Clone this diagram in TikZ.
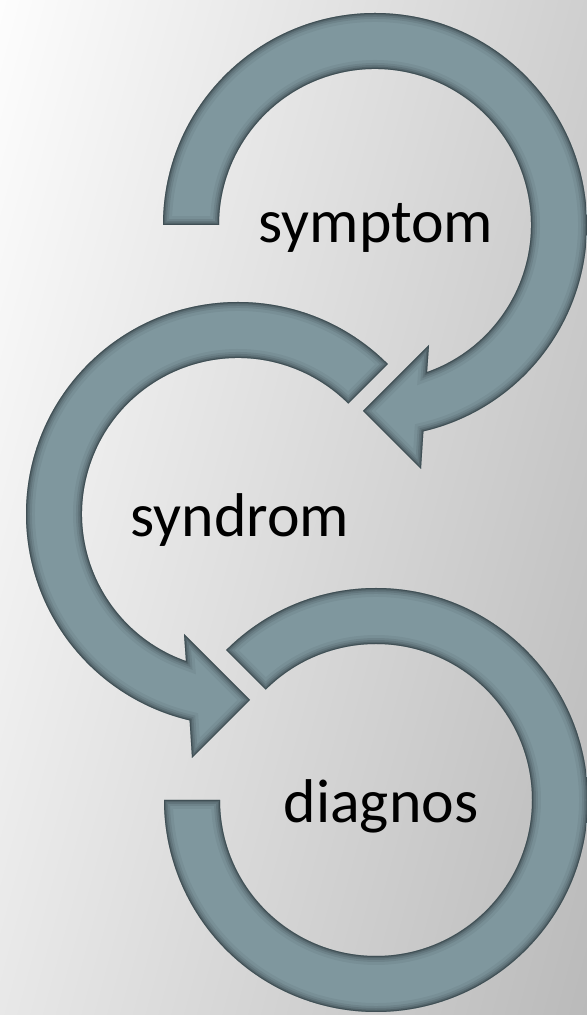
\documentclass[tikz,border=0pt]{standalone}
\usepackage{fontspec}
\setmainfont{Carlito}
\usetikzlibrary{calc}
\definecolor{ringcol}{RGB}{127,151,158}
\definecolor{ringdark}{RGB}{30,42,46}
\definecolor{bgstart}{RGB}{253,253,253}
\definecolor{bgend}{RGB}{186,186,186}
\def\pathTop{($(375,790)+(180:212)$) arc[start angle=180, end angle=-76.8, radius=212] -- (421,546) -- (363,604) -- (429,670) -- ($(375,790)+(-70.5:156)$) arc[start angle=-70.5, end angle=180, radius=156] -- cycle}
\def\pathMid{($(238,501)+(45:212)$) arc[start angle=45, end angle=256.8, radius=212] -- (192,257) -- (250,315) -- (184,381) -- ($(238,501)+(250.5:156)$) arc[start angle=250.5, end angle=45, radius=156] -- cycle}
\def\pathBot{($(376,215)+(135:212)$) arc[start angle=135, end angle=-180, radius=212] -- ($(376,215)+(180:156)$) arc[start angle=-180, end angle=135, radius=156] -- cycle}
\newcommand\ringdraw[1]{%
  \fill[ringcol] #1;
  \begin{scope}
    \clip #1;
    \draw[ringdark, line width=18, opacity=0.07] #1;
    \draw[ringdark, line width=12, opacity=0.11] #1;
    \draw[ringdark, line width=8, opacity=0.15] #1;
    \draw[ringdark, line width=4.5, opacity=0.22] #1;
    \draw[ringdark, line width=2, opacity=0.35] #1;
  \end{scope}}
\tikzset{
  lbl/.style={font=\fontsize{62}{70}\selectfont, anchor=base, inner sep=0pt, text=black}
}
\begin{document}
\begin{tikzpicture}[x=1bp, y=1bp]
  \useasboundingbox (0,0) rectangle (587,1015);
  \begin{scope}
    \clip (0,0) rectangle (587,1015);
    \begin{scope}[transform canvas={rotate around={-15:(293.5,507.5)}}]
      \shade[left color=bgstart, right color=bgend] (-121.5,-58.5) rectangle (708.5,1073.5);
    \end{scope}
  \end{scope}
  \ringdraw{\pathTop}
  \ringdraw{\pathMid}
  \ringdraw{\pathBot}
  \node[lbl] (s1) at (376,772) {symptom};
  \node[lbl] (s2) at (240,478) {syndrom};
  \node[lbl] (s3) at (381,192) {diagnos};
\end{tikzpicture}
\end{document}
